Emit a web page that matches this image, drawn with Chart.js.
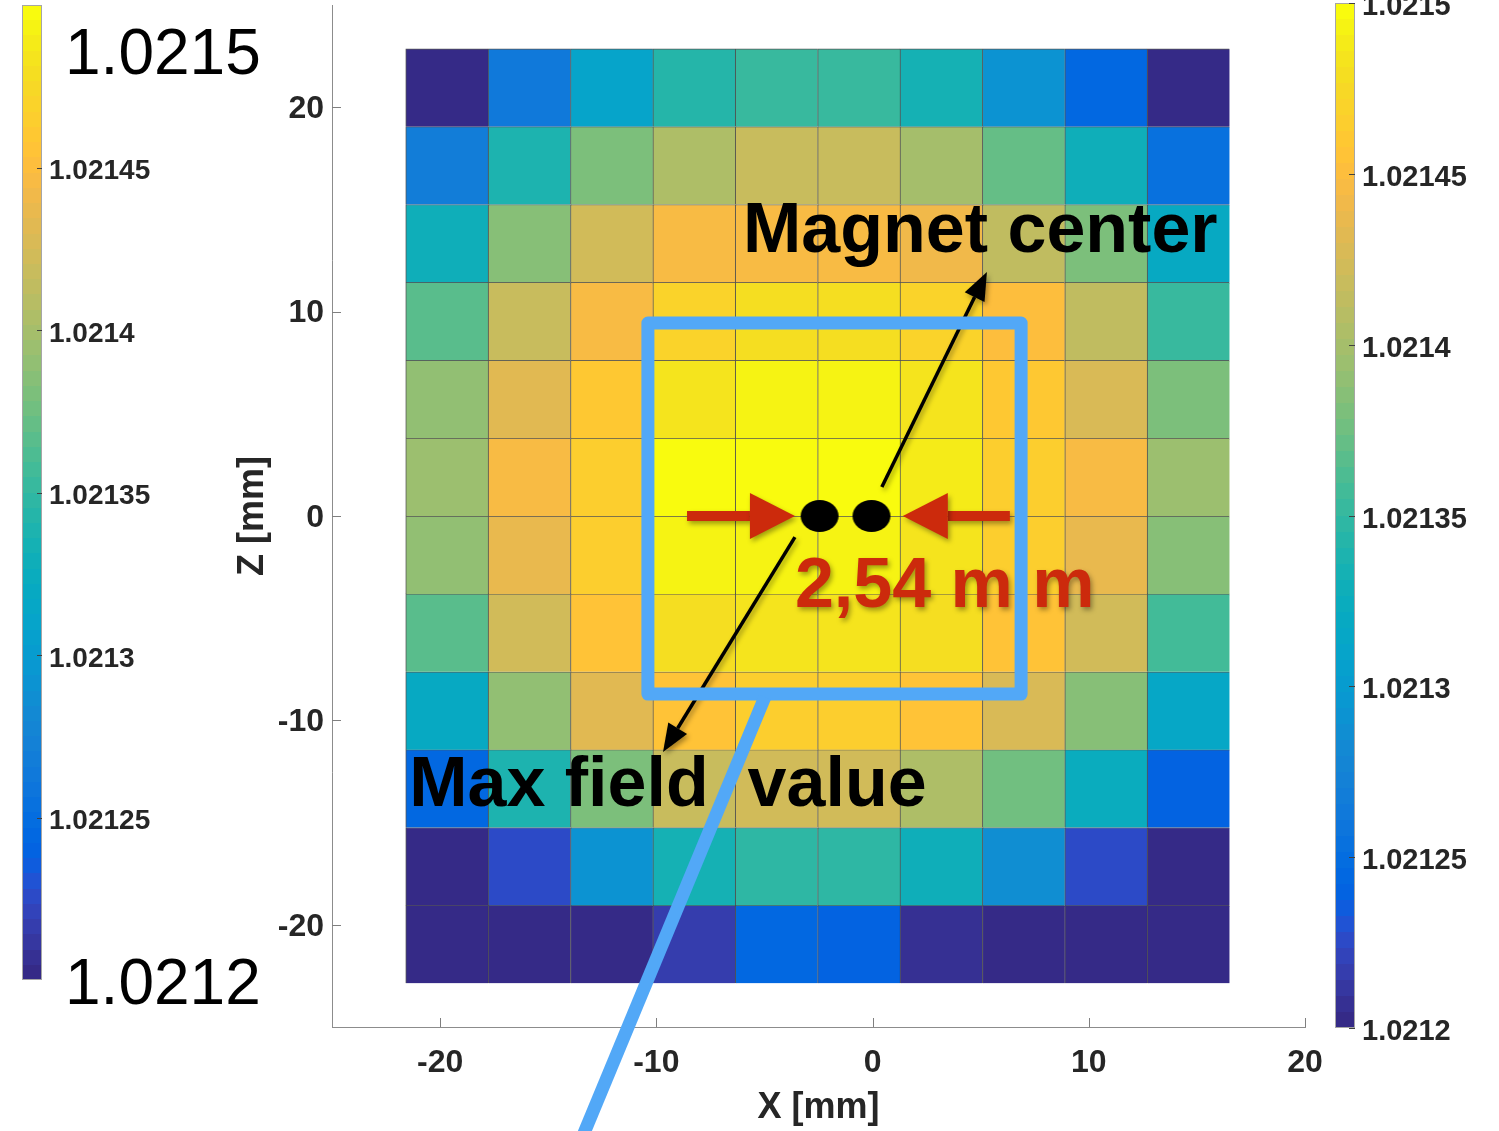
<!DOCTYPE html>
<html>
<head>
<meta charset="utf-8">
<script src="https://cdn.jsdelivr.net/npm/chart.js@4.4.0/dist/chart.umd.min.js"></script>
<style>
  body { margin: 0; background: #fff; }
  #wrap { position: relative; width: 1499px; height: 1131px; overflow: hidden; background: #fff; }
  canvas { position: absolute; }
</style>
</head>
<body>
<div id="wrap">
  <canvas id="main" width="1499" height="1131" style="left:0;top:0"></canvas>
  <canvas id="cbLeft" width="330" height="1131" style="left:0;top:0"></canvas>
  <canvas id="cbRight" width="199" height="1131" style="left:1300px;top:0"></canvas>
</div>
<script>
// cell centres in mm (0.15" pitch)
const xCenters = [-19.685, -15.875, -12.065, -8.255, -4.445, -0.635, 3.175, 6.985, 10.795, 14.605];
const zCenters = [20.955, 17.145, 13.335, 9.525, 5.715, 1.905, -1.905, -5.715, -9.525, -13.335, -17.145, -20.955];
const cellSize = 3.81;

// field values, one array per row from top (z = 21) to bottom (z = -21)
const row0  = [1.021202, 1.021263, 1.021310, 1.021343, 1.021352, 1.021352, 1.021334, 1.021291, 1.021245, 1.021202];
const row1  = [1.021268, 1.021338, 1.021380, 1.021404, 1.021418, 1.021418, 1.021399, 1.021371, 1.021329, 1.021254];
const row2  = [1.021329, 1.021385, 1.021423, 1.021446, 1.021446, 1.021446, 1.021441, 1.021413, 1.021380, 1.021320];
const row3  = [1.021366, 1.021418, 1.021446, 1.021470, 1.021479, 1.021479, 1.021470, 1.021451, 1.021413, 1.021352];
const row4  = [1.021390, 1.021432, 1.021460, 1.021484, 1.021493, 1.021493, 1.021484, 1.021460, 1.021427, 1.021380];
const row5  = [1.021395, 1.021446, 1.021465, 1.021498, 1.021498, 1.021498, 1.021488, 1.021465, 1.021446, 1.021395];
const row6  = [1.021390, 1.021437, 1.021465, 1.021493, 1.021493, 1.021493, 1.021484, 1.021465, 1.021437, 1.021385];
const row7  = [1.021366, 1.021423, 1.021455, 1.021479, 1.021484, 1.021484, 1.021479, 1.021455, 1.021423, 1.021357];
const row8  = [1.021320, 1.021390, 1.021432, 1.021455, 1.021465, 1.021465, 1.021455, 1.021427, 1.021385, 1.021315];
const row9  = [1.021245, 1.021338, 1.021380, 1.021418, 1.021423, 1.021423, 1.021404, 1.021376, 1.021324, 1.021240];
const row10 = [1.021202, 1.021226, 1.021291, 1.021334, 1.021348, 1.021348, 1.021329, 1.021287, 1.021226, 1.021202];
const row11 = [1.021202, 1.021202, 1.021202, 1.021216, 1.021245, 1.021240, 1.021207, 1.021202, 1.021202, 1.021202];
const fieldRows = [row0, row1, row2, row3, row4, row5, row6, row7, row8, row9, row10, row11];

const xTicks = [-20, -10, 0, 10, 20];
const zTicks = [-20, -10, 0, 10, 20];

const cbMin = 1.0212, cbMax = 1.0215;
const cbTicksLeft = ['1.02125', '1.0213', '1.02135', '1.0214', '1.02145'];
const cbTicksRight = ['1.0212', '1.02125', '1.0213', '1.02135', '1.0214', '1.02145', '1.0215'];

// the two magnet positions
const dotsX = [-2.45, -0.05];
const dotsZ = [0, 0];

// MATLAB parula, 64 levels
const parula = [
  [0.2081,0.1663,0.5292],[0.2116,0.1898,0.5777],[0.2123,0.2138,0.6270],[0.2081,0.2386,0.6771],
  [0.1959,0.2645,0.7279],[0.1707,0.2919,0.7792],[0.1253,0.3242,0.8303],[0.0591,0.3598,0.8683],
  [0.0117,0.3875,0.8820],[0.0060,0.4086,0.8828],[0.0165,0.4266,0.8786],[0.0329,0.4430,0.8720],
  [0.0498,0.4586,0.8641],[0.0629,0.4737,0.8554],[0.0723,0.4887,0.8467],[0.0779,0.5040,0.8384],
  [0.0793,0.5200,0.8312],[0.0749,0.5375,0.8263],[0.0641,0.5570,0.8240],[0.0488,0.5772,0.8228],
  [0.0343,0.5966,0.8199],[0.0265,0.6137,0.8135],[0.0239,0.6287,0.8038],[0.0231,0.6418,0.7913],
  [0.0228,0.6535,0.7768],[0.0267,0.6642,0.7607],[0.0384,0.6743,0.7436],[0.0590,0.6838,0.7254],
  [0.0843,0.6928,0.7062],[0.1133,0.7015,0.6859],[0.1453,0.7098,0.6646],[0.1801,0.7177,0.6424],
  [0.2178,0.7250,0.6193],[0.2586,0.7317,0.5954],[0.3022,0.7376,0.5712],[0.3482,0.7424,0.5473],
  [0.3953,0.7459,0.5244],[0.4420,0.7481,0.5033],[0.4871,0.7491,0.4840],[0.5300,0.7491,0.4661],
  [0.5709,0.7485,0.4494],[0.6099,0.7473,0.4337],[0.6473,0.7456,0.4188],[0.6834,0.7435,0.4044],
  [0.7184,0.7411,0.3905],[0.7525,0.7384,0.3768],[0.7858,0.7356,0.3633],[0.8185,0.7327,0.3498],
  [0.8507,0.7299,0.3360],[0.8824,0.7274,0.3217],[0.9139,0.7258,0.3063],[0.9450,0.7261,0.2886],
  [0.9739,0.7314,0.2666],[0.9938,0.7455,0.2403],[0.9990,0.7653,0.2164],[0.9955,0.7861,0.1967],
  [0.9880,0.8066,0.1794],[0.9789,0.8271,0.1633],[0.9697,0.8481,0.1475],[0.9626,0.8705,0.1309],
  [0.9589,0.8949,0.1132],[0.9598,0.9218,0.0948],[0.9661,0.9514,0.0755],[0.9763,0.9831,0.0538]
];

const FONT = '"Liberation Sans", Arial, Helvetica, sans-serif';
const INK = '#262626';
const BLUE = '#52a8f7';
const RED = '#cc2a0c';

const rgb = c => `rgb(${Math.round(c[0]*255)},${Math.round(c[1]*255)},${Math.round(c[2]*255)})`;
const colorOf = v => {
  let i = Math.floor((v - cbMin) / (cbMax - cbMin) * parula.length);
  i = Math.max(0, Math.min(parula.length - 1, i));
  return rgb(parula[i]);
};

// black elliptic dot used as point style
const dotImg = document.createElement('canvas');
dotImg.width = 40; dotImg.height = 34;
(() => {
  const d = dotImg.getContext('2d');
  d.fillStyle = '#000';
  d.beginPath(); d.ellipse(20, 17, 19, 16, 0, 0, Math.PI * 2); d.fill();
})();

const heatSets = fieldRows.map((row, r) => ({
  type: 'bar',
  data: row.map((v, c) => ({ x: xCenters[c], y: [zCenters[r] - cellSize / 2, zCenters[r] + cellSize / 2] })),
  backgroundColor: row.map(colorOf),
  borderColor: 'rgba(30,30,30,0.75)',
  borderWidth: { top: 1, left: 1, right: 0, bottom: 0 },
  borderSkipped: false,
  grouped: false,
  barPercentage: 1,
  categoryPercentage: 1,
  order: 2
}));

const dotSet = {
  type: 'scatter',
  data: dotsX.map((x, i) => ({ x, y: dotsZ[i] })),
  pointStyle: dotImg,
  pointRadius: 17,
  order: 0
};

function arrow(ctx, x0, y0, x1, y1, lw, headLen, headW, color) {
  const ang = Math.atan2(y1 - y0, x1 - x0);
  const bx = x1 - headLen * Math.cos(ang), by = y1 - headLen * Math.sin(ang);
  ctx.strokeStyle = color; ctx.fillStyle = color; ctx.lineWidth = lw;
  ctx.beginPath(); ctx.moveTo(x0, y0); ctx.lineTo(bx, by); ctx.stroke();
  ctx.beginPath(); ctx.moveTo(x1, y1);
  ctx.lineTo(bx + headW / 2 * Math.sin(ang), by - headW / 2 * Math.cos(ang));
  ctx.lineTo(bx - headW / 2 * Math.sin(ang), by + headW / 2 * Math.cos(ang));
  ctx.closePath(); ctx.fill();
}

const mainDecor = {
  id: 'mainDecor',
  afterDraw(chart) {
    const { ctx, chartArea: a, scales: { x, y } } = chart;
    const X = v => x.getPixelForValue(v), Y = v => y.getPixelForValue(v);
    ctx.save();

    // inward tick marks
    ctx.strokeStyle = '#7f7f7f'; ctx.lineWidth = 1;
    ctx.beginPath();
    zTicks.forEach(v => { const p = Math.round(Y(v)) + 0.5; ctx.moveTo(a.left, p); ctx.lineTo(a.left + 9, p); });
    xTicks.forEach(v => { const p = Math.round(X(v)) + 0.5; ctx.moveTo(p, a.bottom); ctx.lineTo(p, a.bottom - 9); });
    ctx.stroke();

    // axis titles
    ctx.fillStyle = INK;
    ctx.font = `bold 36px ${FONT}`;
    ctx.textAlign = 'center'; ctx.textBaseline = 'middle';
    ctx.fillText('X [mm]', (a.left + a.right) / 2, 1108);
    ctx.save();
    ctx.translate(253, (a.top + a.bottom) / 2); ctx.rotate(-Math.PI / 2);
    ctx.fillText('Z [mm]', 0, 0);
    ctx.restore();

    // black arrows
    ctx.shadowColor = 'rgba(0,0,0,0.35)'; ctx.shadowBlur = 5; ctx.shadowOffsetX = 2; ctx.shadowOffsetY = 3;
    arrow(ctx, X(0.43), Y(1.42), X(5.29), Y(11.94), 3.5, 28, 22, '#000');
    arrow(ctx, X(-3.59), Y(-1.03), X(-9.69), Y(-11.55), 3.5, 28, 22, '#000');

    // red arrows
    arrow(ctx, X(-8.58), Y(0), X(-3.59), Y(0), 10, 45, 46, RED);
    arrow(ctx, X(6.35), Y(0), X(1.40), Y(0), 10, 45, 46, RED);

    // red label
    ctx.font = `bold 70px ${FONT}`;
    ctx.textAlign = 'left'; ctx.textBaseline = 'alphabetic';
    ctx.fillStyle = RED;
    ctx.fillText('2,54 m m', X(-3.59), Y(-4.45));
    ctx.shadowColor = 'transparent';

    // blue box and pointer line
    ctx.strokeStyle = BLUE; ctx.lineWidth = 13; ctx.lineJoin = 'round';
    ctx.strokeRect(X(-10.39), Y(9.44), X(6.87) - X(-10.39), Y(-8.71) - Y(9.44));
    ctx.beginPath(); ctx.moveTo(X(-4.98), Y(-8.86)); ctx.lineTo(X(-13.67), Y(-31.02)); ctx.stroke();

    // black labels
    ctx.fillStyle = '#000';
    ctx.fillText('Magnet center', X(-5.99), Y(12.92));
    ctx.fillText('Max field  value', X(-21.43), Y(-14.19));
    ctx.restore();
  }
};

new Chart(document.getElementById('main'), {
  type: 'bar',
  data: { datasets: [dotSet, ...heatSets] },
  options: {
    responsive: false,
    animation: false,
    layout: { autoPadding: false, padding: { left: 232, right: 194, top: 5, bottom: 0 } },
    plugins: { legend: { display: false }, tooltip: { enabled: false } },
    scales: {
      x: {
        type: 'linear', min: -25, max: 20, offset: false,
        afterBuildTicks: s => { s.ticks = xTicks.map(v => ({ value: v })); },
        afterFit: s => { s.height = 104; s.paddingLeft = 0; s.paddingRight = 0; },
        grid: { display: false, drawTicks: false },
        border: { color: '#8c8c8c', width: 1 },
        ticks: { font: { family: FONT, size: 32, weight: 'bold' }, color: INK, padding: 17, maxRotation: 0, autoSkip: false }
      },
      y: {
        type: 'linear', min: -25, max: 25,
        afterBuildTicks: s => { s.ticks = zTicks.map(v => ({ value: v })); },
        afterFit: s => { s.width = 100; s.paddingTop = 0; s.paddingBottom = 0; },
        grid: { display: false, drawTicks: false },
        border: { color: '#8c8c8c', width: 1 },
        ticks: { font: { family: FONT, size: 32, weight: 'bold' }, color: INK, padding: 8, labelOffset: 2, autoSkip: false }
      }
    }
  },
  plugins: [mainDecor]
});

function colorbarDecor(id, tickLen, bigLabels) {
  return {
    id,
    afterDraw(chart) {
      const { ctx, chartArea: a, scales: { y } } = chart;
      ctx.save();
      ctx.strokeStyle = '#a6a6a6'; ctx.lineWidth = 1;
      ctx.strokeRect(a.left + 0.5, a.top + 0.5, a.width - 1, a.height - 1);
      ctx.strokeStyle = '#404040';
      ctx.beginPath();
      y.ticks.forEach(t => {
        const p = Math.round(y.getPixelForValue(t.value)) + 0.5;
        ctx.moveTo(a.right, p); ctx.lineTo(a.right - tickLen, p);
      });
      ctx.stroke();
      if (bigLabels) {
        ctx.fillStyle = '#000';
        ctx.font = `64px ${FONT}`;
        ctx.textAlign = 'left'; ctx.textBaseline = 'alphabetic';
        ctx.fillText(cbMax.toString(), 65, 74);
        ctx.fillText(cbMin.toString(), 65, 1004);
      }
      ctx.restore();
    }
  };
}

function colorbar(id, labels, pad, fontSize, tickLen, bigLabels) {
  new Chart(document.getElementById(id), {
    type: 'bar',
    data: {
      labels: ['cb'],
      datasets: [{
        data: [[cbMin, cbMax]],
        backgroundColor: c => {
          const a = c.chart.chartArea;
          if (!a) return rgb(parula[0]);
          const g = c.chart.ctx.createLinearGradient(0, a.bottom, 0, a.top);
          parula.forEach((col, i) => {
            g.addColorStop(i / parula.length, rgb(col));
            g.addColorStop((i + 1) / parula.length, rgb(col));
          });
          return g;
        },
        borderWidth: 0,
        barPercentage: 1,
        categoryPercentage: 1
      }]
    },
    options: {
      responsive: false,
      animation: false,
      layout: { autoPadding: false, padding: pad },
      plugins: { legend: { display: false }, tooltip: { enabled: false } },
      scales: {
        x: { display: false },
        y: {
          position: 'right', min: cbMin, max: cbMax,
          afterBuildTicks: s => { s.ticks = labels.map(t => ({ value: parseFloat(t) })); },
          afterFit: s => { s.width = pad.axis; s.paddingTop = 0; s.paddingBottom = 0; },
          grid: { display: false, drawTicks: false },
          border: { display: false },
          ticks: {
            callback: (v, i) => labels[i],
            font: { family: FONT, size: fontSize, weight: 'bold' },
            color: INK, padding: 7, labelOffset: 4, autoSkip: false
          }
        }
      }
    },
    plugins: [colorbarDecor(id + 'Decor', tickLen, bigLabels)]
  });
}

colorbar('cbLeft', cbTicksLeft, { left: 22, right: 88, top: 5, bottom: 151, axis: 200 }, 28, 5, true);
colorbar('cbRight', cbTicksRight, { left: 35, right: 24, top: 3, bottom: 103, axis: 120 }, 29, 6, false);
</script>
</body>
</html>
